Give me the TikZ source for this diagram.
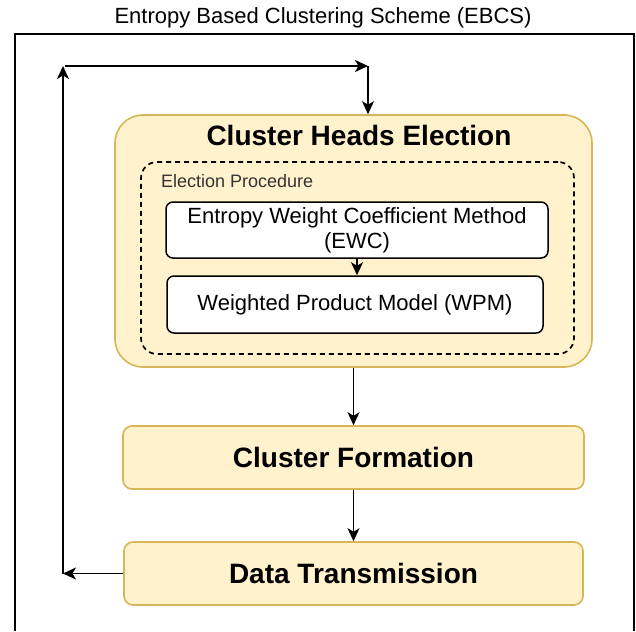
\documentclass[tikz,border=0pt]{standalone}
\usepackage{fontspec}
\setmainfont{Liberation Sans}
\usetikzlibrary{arrows.meta}

\definecolor{stageFill}{HTML}{FFF2CC}
\definecolor{stageLine}{HTML}{D6B656}
\definecolor{strokecol}{rgb}{0,0,0}
\definecolor{procGray}{rgb}{0.2,0.2,0.2}

\begin{document}
\begin{tikzpicture}[x=1pt, y=-1pt,
    stage/.style={draw=stageLine, fill=stageFill, line width=1.6pt, inner sep=0pt, rounded corners=9pt},
    method/.style={draw=strokecol, fill=white, line width=1.5pt, inner sep=0pt, rounded corners=7pt, align=center},
    flow/.style={-{Stealth[length=13pt,width=12pt,inset=3.5pt]}, draw=strokecol, line width=1.8pt},
    headFont/.style={font=\fontsize{28}{30}\selectfont\bfseries},
    textFont/.style={font=\fontsize{22}{25}\selectfont}]

    \useasboundingbox (0,0) rectangle (636,631);

    % outer frame, open at the bottom
    \draw[draw=strokecol, line width=1.6pt] (15,631) -- (15,34) -- (634,34) -- (634,631);
    \node[font=\fontsize{22}{24}\selectfont] (title) at (323,18) {Entropy Based Clustering Scheme (EBCS)};

    % cluster heads election
    \node[stage, rounded corners=28pt, minimum width=477pt, minimum height=252pt] (che) at (353.5,241) {};
    \node[headFont, inner sep=0pt] (cheTitle) at (359,135) {Cluster Heads Election};

    % election procedure
    \node[draw=strokecol, dash pattern=on 5pt off 4pt, line width=1.7pt, rounded corners=16pt,
          minimum width=433pt, minimum height=192pt, inner sep=0pt] (proc) at (357.5,258) {};
    \node[anchor=west, text=procGray, font=\fontsize{18}{20}\selectfont, inner sep=0pt] (procLabel) at (161,181) {Election Procedure};

    \node[method, textFont, minimum width=382pt, minimum height=56pt] (ewc) at (357,230) {Entropy Weight Coefficient Method\\(EWC)};
    \node[method, textFont, minimum width=376pt, minimum height=57pt] (wpm) at (355,304.5) {Weighted Product Model (WPM)};
    \draw (ewc.south) edge[flow] (ewc.south |- wpm.north);

    % lower stages
    \node[stage, headFont, minimum width=461pt, minimum height=63pt] (cf) at (353.5,457.5) {Cluster Formation};
    \node[stage, headFont, minimum width=459pt, minimum height=63pt] (dt) at (353.5,573.5) {Data Transmission};

    \draw (che.south) edge[flow] (cf.north);
    \draw (cf.south) edge[flow] (dt.north);

    % feedback loop
    \coordinate (loopLow) at (63,573.5);
    \coordinate (loopHigh) at (63,66);
    \coordinate (loopTurn) at (368,66);
    \draw (dt.west) edge[flow] (loopLow);
    \draw (loopLow) edge[flow] (loopHigh);
    \draw ([xshift=2pt]loopHigh) edge[flow] (loopTurn);
    \draw (loopTurn) edge[flow] (loopTurn |- che.north);
\end{tikzpicture}
\end{document}
